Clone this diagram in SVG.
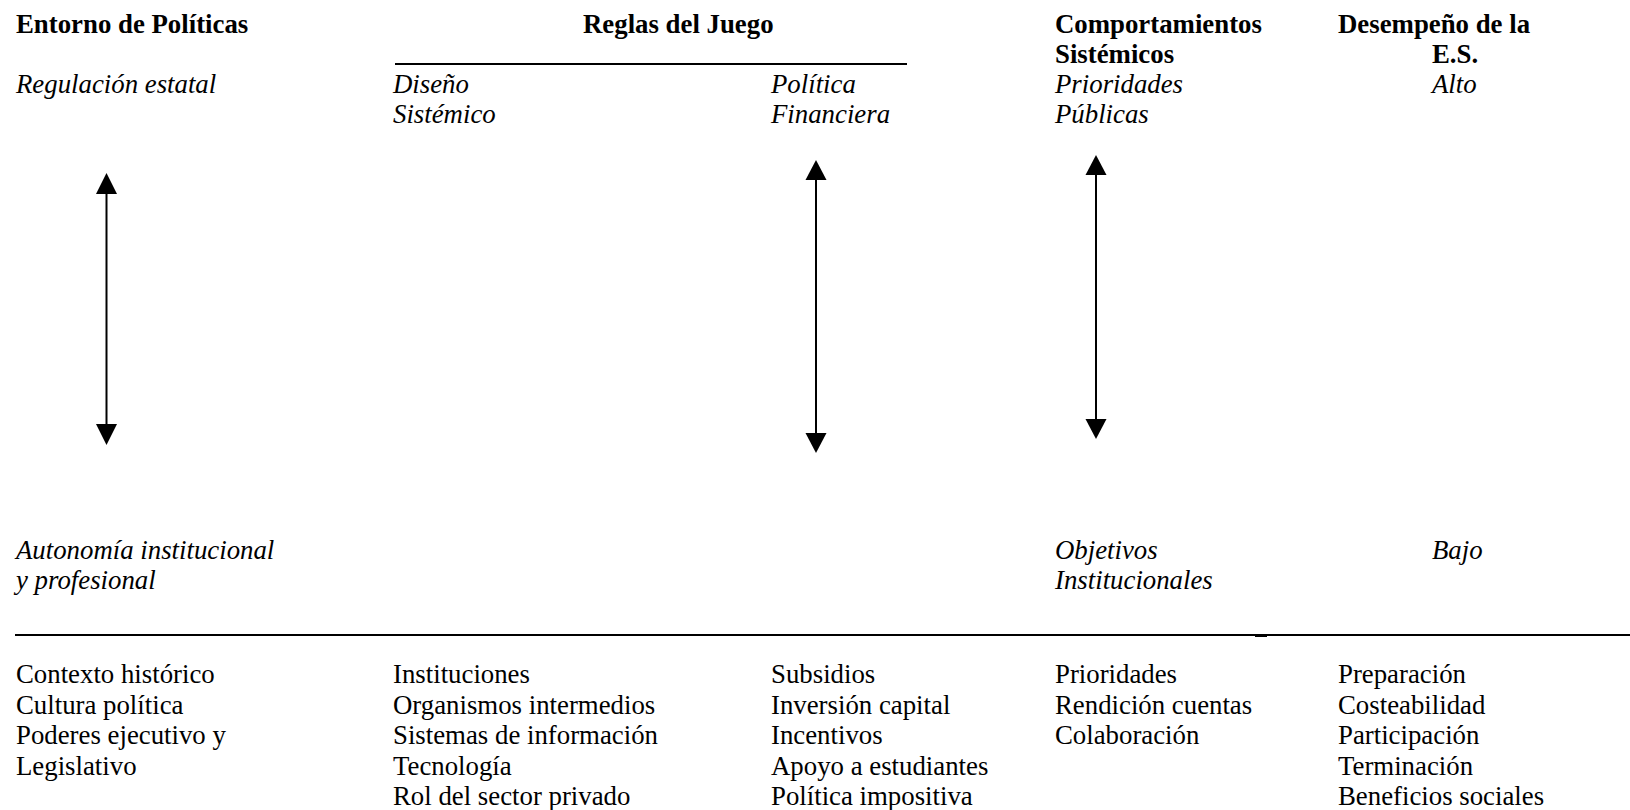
<svg xmlns="http://www.w3.org/2000/svg" width="1630" height="810" viewBox="0 0 1630 810">
<style>
text{font-family:"Liberation Serif","Times New Roman",serif;font-size:26.8px;fill:#000}
.b{font-weight:bold}
.i{font-style:italic}
.rule{stroke:#000;stroke-width:2;fill:none}
.arr{stroke:#000;stroke-width:2;fill:none}
.head{fill:#000}
</style>
<rect width="1630" height="810" fill="#fff"/>
<g id="col-entorno">
<text class="b" x="16" y="33">Entorno de Políticas</text>
<text class="i" x="16" y="93">Regulación estatal</text>
<text class="i" x="16" y="559">Autonomía institucional</text>
<text class="i" x="16" y="589">y profesional</text>
<text x="16" y="683">Contexto histórico</text>
<text x="16" y="713.5">Cultura política</text>
<text x="16" y="744">Poderes ejecutivo y</text>
<text x="16" y="774.5">Legislativo</text>
</g>
<g id="col-reglas">
<text class="b" x="583" y="33">Reglas del Juego</text>
<line class="rule" x1="395" y1="64" x2="907" y2="64"/>
</g>
<g id="col-diseno">
<text class="i" x="393" y="93">Diseño</text>
<text class="i" x="393" y="123">Sistémico</text>
<text x="393" y="683">Instituciones</text>
<text x="393" y="713.5">Organismos intermedios</text>
<text x="393" y="744">Sistemas de información</text>
<text x="393" y="774.5">Tecnología</text>
<text x="393" y="805">Rol del sector privado</text>
</g>
<g id="col-politica">
<text class="i" x="771" y="93">Política</text>
<text class="i" x="771" y="123">Financiera</text>
<text x="771" y="683">Subsidios</text>
<text x="771" y="713.5">Inversión capital</text>
<text x="771" y="744">Incentivos</text>
<text x="771" y="774.5">Apoyo a estudiantes</text>
<text x="771" y="805">Política impositiva</text>
</g>
<g id="col-comportamientos">
<text class="b" x="1055" y="33">Comportamientos</text>
<text class="b" x="1055" y="63">Sistémicos</text>
<text class="i" x="1055" y="93">Prioridades</text>
<text class="i" x="1055" y="123">Públicas</text>
<text class="i" x="1055" y="559">Objetivos</text>
<text class="i" x="1055" y="589">Institucionales</text>
<text x="1055" y="683">Prioridades</text>
<text x="1055" y="713.5">Rendición cuentas</text>
<text x="1055" y="744">Colaboración</text>
</g>
<g id="col-desempeno">
<text class="b" x="1338" y="33">Desempeño de la</text>
<text class="b" x="1432" y="63">E.S.</text>
<text class="i" x="1432" y="93">Alto</text>
<text class="i" x="1432" y="559">Bajo</text>
<text x="1338" y="683">Preparación</text>
<text x="1338" y="713.5">Costeabilidad</text>
<text x="1338" y="744">Participación</text>
<text x="1338" y="774.5">Terminación</text>
<text x="1338" y="805">Beneficios sociales</text>
</g>
<g id="divider">
<line class="rule" x1="15" y1="635" x2="1630" y2="635"/>
<rect x="1255" y="634" width="12" height="3" fill="#000"/>
</g>
<g id="connectors">
<line class="arr" x1="106.5" y1="192" x2="106.5" y2="426"/>
<polygon class="head" points="106.5,173 96,194 117,194"/>
<polygon class="head" points="106.5,445 96,424 117,424"/>
<line class="arr" x1="816" y1="178" x2="816" y2="435"/>
<polygon class="head" points="816,160 805.5,180 826.5,180"/>
<polygon class="head" points="816,453 805.5,433 826.5,433"/>
<line class="arr" x1="1096" y1="173" x2="1096" y2="421"/>
<polygon class="head" points="1096,155 1085.5,175 1106.5,175"/>
<polygon class="head" points="1096,439 1085.5,419 1106.5,419"/>
</g>
</svg>
